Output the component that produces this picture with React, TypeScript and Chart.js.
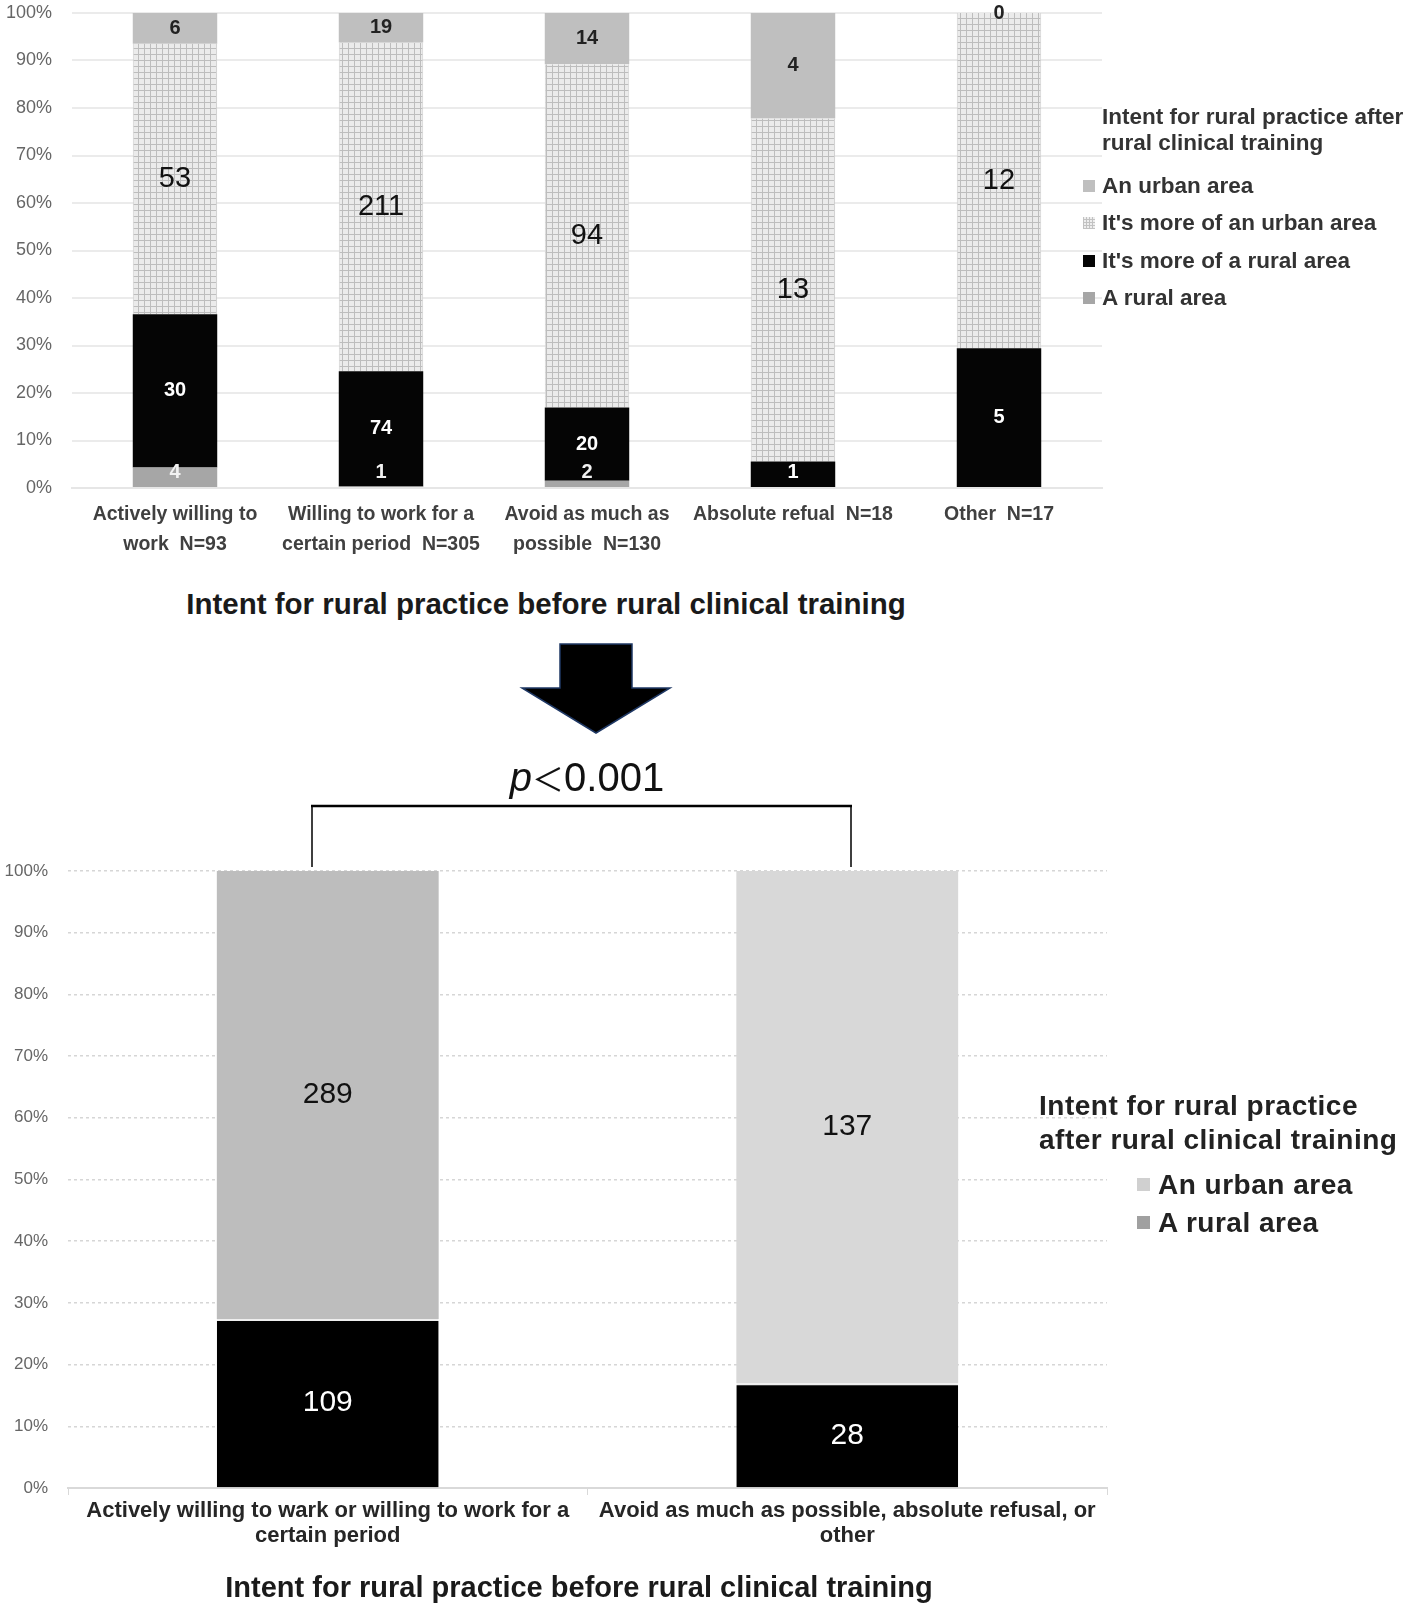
import React, { useEffect, useRef } from "react";
import { Chart, registerables } from "chart.js";

Chart.register(...registerables);

// ---------- DATA ----------
const topCategories: string[][] = [
  ["Actively willing to", "work  N=93"],
  ["Willing to work for a", "certain period  N=305"],
  ["Avoid as much as", "possible  N=130"],
  ["Absolute refual  N=18"],
  ["Other  N=17"],
];
const ruralArea: (number | null)[] = [4, 1, 2, null, null];
const moreRural: (number | null)[] = [30, 74, 20, 1, 5];
const moreUrban: (number | null)[] = [53, 211, 94, 13, 12];
const urbanArea: (number | null)[] = [6, 19, 14, 4, 0];

const bottomCategories: string[][] = [
  ["Actively willing to wark or willing to work for a", "certain period"],
  ["Avoid as much as possible, absolute refusal, or", "other"],
];
const bottomRural: number[] = [109, 28];
const bottomUrban: number[] = [289, 137];

const percentTicks: number[] = [0, 10, 20, 30, 40, 50, 60, 70, 80, 90, 100];

const topLegendTitle = ["Intent for rural practice after", "rural clinical training"];
const topLegendItems = ["An urban area", "It's more of an urban area", "It's more of a rural area", "A rural area"];
const bottomLegendTitle = ["Intent for rural practice", "after rural clinical training"];
const bottomLegendItems = ["An urban area", "A rural area"];
const axisTitle = "Intent for rural practice before rural clinical training";

// ---------- helpers ----------
const FONT = "'Liberation Sans', Arial, 'Noto Sans CJK JP', sans-serif";

function totals(arrs: (number | null)[][]): number[] {
  const n = arrs[0].length;
  const t: number[] = [];
  for (let i = 0; i < n; i++) {
    let s = 0;
    arrs.forEach((a) => (s += a[i] ?? 0));
    t.push(s);
  }
  return t;
}
function pct(arr: (number | null)[], tot: number[]) {
  return arr.map((v, i) => (v == null ? null : (v / tot[i]) * 100));
}

const labelPlugin = {
  id: "segLabels",
  afterDatasetsDraw(chart: any) {
    const ctx = chart.ctx;
    const area = chart.chartArea;
    chart.data.datasets.forEach((ds: any, di: number) => {
      const meta = chart.getDatasetMeta(di);
      meta.data.forEach((el: any, i: number) => {
        const c = ds.counts[i];
        if (c == null) return;
        const p = el.getProps(["x", "y", "base"], true);
        let cy = (p.y + p.base) / 2;
        cy = Math.min(cy, area.bottom - 16);
        ctx.save();
        ctx.font = ds.labelFont;
        ctx.fillStyle = ds.labelColor;
        ctx.textAlign = "center";
        ctx.textBaseline = "middle";
        ctx.fillText(String(c), p.x, cy);
        ctx.restore();
      });
    });
  },
};

function makePattern(): CanvasPattern | string {
  const c = document.createElement("canvas");
  c.width = 6;
  c.height = 6;
  const g = c.getContext("2d");
  if (!g) return "#dddddd";
  g.fillStyle = "#ebebeb";
  g.fillRect(0, 0, 6, 6);
  g.fillStyle = "#bdbdbd";
  g.fillRect(0, 0, 6, 1);
  g.fillRect(0, 0, 1, 6);
  const p = g.createPattern(c, "repeat");
  return p || "#dddddd";
}

const patternCss =
  "repeating-linear-gradient(0deg,#c2c2c2 0 1px,transparent 1px 3px),repeating-linear-gradient(90deg,#c2c2c2 0 1px,#eeeeee 1px 3px)";

const yFit = (w: number) => (s: any) => {
  s.width = w;
  s.paddingTop = 0;
  s.paddingBottom = 0;
};

export default function App() {
  const topRef = useRef<HTMLCanvasElement | null>(null);
  const botRef = useRef<HTMLCanvasElement | null>(null);

  useEffect(() => {
    const topTot = totals([ruralArea, moreRural, moreUrban, urbanArea]);
    const pattern = makePattern();
    const smallBold = `bold 20px ${FONT}`;
    const bigFont = `29px ${FONT}`;

    const topChart = new Chart(topRef.current as HTMLCanvasElement, {
      type: "bar",
      data: {
        labels: topCategories,
        datasets: [
          { label: "A rural area", data: pct(ruralArea, topTot), backgroundColor: "#a6a6a6", counts: ruralArea, labelFont: smallBold, labelColor: "#f2f2f2" } as any,
          { label: "It's more of a rural area", data: pct(moreRural, topTot), backgroundColor: "#050505", counts: moreRural, labelFont: smallBold, labelColor: "#ffffff" } as any,
          { label: "It's more of an urban area", data: pct(moreUrban, topTot), backgroundColor: pattern, borderColor: "#cfcfcf", borderWidth: { left: 1, right: 1, top: 0, bottom: 0 }, borderSkipped: false, counts: moreUrban, labelFont: bigFont, labelColor: "#111111" } as any,
          { label: "An urban area", data: pct(urbanArea, topTot), backgroundColor: "#bfbfbf", counts: urbanArea, labelFont: smallBold, labelColor: "#222222" } as any,
        ],
      },
      options: {
        responsive: false,
        animation: false,
        layout: { padding: { top: 13, right: 2, left: 0, bottom: 0 } },
        datasets: { bar: { barPercentage: 0.41, categoryPercentage: 1 } },
        plugins: { legend: { display: false }, tooltip: { enabled: false }, title: { display: false } },
        scales: {
          x: {
            stacked: true,
            grid: { display: false, drawTicks: false },
            border: { display: true, color: "#e6e6e6", width: 2 },
            ticks: { color: "#404040", font: { family: FONT, size: 19.5, weight: "bold", lineHeight: "30px" } as any, padding: 12, maxRotation: 0, autoSkip: false },
            afterFit: (s: any) => { s.height = 72; },
          },
          y: {
            stacked: true,
            min: 0,
            max: 100,
            afterBuildTicks: (s: any) => { s.ticks = percentTicks.map((v) => ({ value: v })); },
            grid: { color: "#ebebeb", lineWidth: 2, drawTicks: false },
            border: { display: false },
            ticks: { color: "#666666", font: { family: FONT, size: 18 }, padding: 20, callback: (v: any) => v + "%" },
            afterFit: yFit(72),
          },
        },
      },
      plugins: [labelPlugin],
    } as any);

    const botTot = totals([bottomRural, bottomUrban]);
    const big2 = `30px ${FONT}`;
    const botChart = new Chart(botRef.current as HTMLCanvasElement, {
      type: "bar",
      data: {
        labels: bottomCategories,
        datasets: [
          { label: "A rural area", data: pct(bottomRural, botTot), backgroundColor: "#000000", borderColor: "#eeeeee", borderWidth: { top: 2, left: 0, right: 0, bottom: 0 }, borderSkipped: false, counts: bottomRural, labelFont: big2, labelColor: "#ffffff" } as any,
          { label: "An urban area", data: pct(bottomUrban, botTot), backgroundColor: ["#bdbdbd", "#d8d8d8"], counts: bottomUrban, labelFont: big2, labelColor: "#111111" } as any,
        ],
      },
      options: {
        responsive: false,
        animation: false,
        layout: { padding: { top: 31, right: 3, left: 0, bottom: 0 } },
        datasets: { bar: { barPercentage: 0.427, categoryPercentage: 1 } },
        plugins: { legend: { display: false }, tooltip: { enabled: false }, title: { display: false } },
        scales: {
          x: {
            stacked: true,
            grid: { display: true, drawOnChartArea: false, drawTicks: true, tickLength: 7, color: "#d9d9d9", offset: true },
            border: { display: true, color: "#d9d9d9", width: 2 },
            ticks: { color: "#262626", font: { family: FONT, size: 22, weight: "bold", lineHeight: "25px" } as any, padding: 3, maxRotation: 0, autoSkip: false },
            afterFit: (s: any) => { s.height = 72; },
          },
          y: {
            stacked: true,
            min: 0,
            max: 100,
            afterBuildTicks: (s: any) => { s.ticks = percentTicks.map((v) => ({ value: v })); },
            grid: { color: "#d6d6d6", lineWidth: 1.5, drawTicks: false },
            border: { display: false, dash: [3, 3] },
            ticks: { color: "#666666", font: { family: FONT, size: 17 }, padding: 20, callback: (v: any) => v + "%" },
            afterFit: yFit(68),
          },
        },
      },
      plugins: [labelPlugin],
    } as any);

    return () => {
      topChart.destroy();
      botChart.destroy();
    };
  }, []);

  const abs = (x: number, y: number, extra: React.CSSProperties = {}): React.CSSProperties => ({
    position: "absolute",
    left: x,
    top: y,
    whiteSpace: "nowrap",
    fontFamily: FONT,
    ...extra,
  });

  const topSwatches: string[] = ["#bfbfbf", patternCss, "#050505", "#a6a6a6"];
  const topItemY = [186, 223, 261, 298];
  const botSwatches: string[] = ["#d0d0d0", "#a0a0a0"];
  const botItemY = [1185, 1223];

  return (
    <div style={{ position: "absolute", left: 0, top: 0, width: 1416, height: 1606, background: "#ffffff", overflow: "hidden" }}>
      <canvas ref={topRef} width={1104} height={560} style={{ position: "absolute", left: 0, top: 0, width: 1104, height: 560 }} />
      <canvas ref={botRef} width={1110} height={720} style={{ position: "absolute", left: 0, top: 840, width: 1110, height: 720 }} />

      {/* top legend */}
      {topLegendTitle.map((t, i) => (
        <div key={"tlt" + i} style={abs(1102, 117 + i * 26 - 13, { fontSize: 22.5, fontWeight: "bold", color: "#333333", lineHeight: "26px" })}>{t}</div>
      ))}
      {topLegendItems.map((t, i) => (
        <React.Fragment key={"tli" + i}>
          <div style={abs(1083, topItemY[i] - 6, { width: 12, height: 12, background: topSwatches[i] })} />
          <div style={abs(1102, topItemY[i] - 13, { fontSize: 22.5, fontWeight: "bold", color: "#333333", lineHeight: "26px" })}>{t}</div>
        </React.Fragment>
      ))}

      {/* top axis title */}
      <div style={abs(546, 604, { transform: "translate(-50%,-50%)", fontSize: 29.5, fontWeight: "bold", color: "#1a1a1a" })}>{axisTitle}</div>

      {/* arrow + bracket */}
      <svg width={1416} height={1606} style={{ position: "absolute", left: 0, top: 0, pointerEvents: "none" }}>
        <polygon points="560,644 632,644 632,688 670,688 596,733 522,688 560,688" fill="#000000" stroke="#1f3864" strokeWidth={1.5} />
        <path d="M312 867 V806 H851 V867" fill="none" stroke="#000000" strokeWidth={1.5} />
        <line x1={311} y1={806} x2={852} y2={806} stroke="#000000" strokeWidth={2.5} />
      </svg>

      {/* p value */}
      <div style={abs(587, 777, { transform: "translate(-50%,-50%)", fontSize: 40, color: "#111111" })}>
        <span style={{ fontStyle: "italic" }}>p</span>
        <span style={{ fontFamily: "'Noto Sans CJK JP', sans-serif", fontSize: 32 }}>＜</span>0.001
      </div>

      {/* bottom legend */}
      {bottomLegendTitle.map((t, i) => (
        <div key={"blt" + i} style={abs(1039, 1106 + i * 34 - 17, { fontSize: 28, fontWeight: "bold", color: "#222222", lineHeight: "34px", letterSpacing: 0.5 })}>{t}</div>
      ))}
      {bottomLegendItems.map((t, i) => (
        <React.Fragment key={"bli" + i}>
          <div style={abs(1137, botItemY[i] - 7, { width: 13, height: 13, background: botSwatches[i] })} />
          <div style={abs(1158, botItemY[i] - 17, { fontSize: 28, fontWeight: "bold", color: "#222222", lineHeight: "34px", letterSpacing: 0.5 })}>{t}</div>
        </React.Fragment>
      ))}

      {/* bottom axis title */}
      <div style={abs(579, 1587, { transform: "translate(-50%,-50%)", fontSize: 29, fontWeight: "bold", color: "#1a1a1a" })}>{axisTitle}</div>
    </div>
  );
}
